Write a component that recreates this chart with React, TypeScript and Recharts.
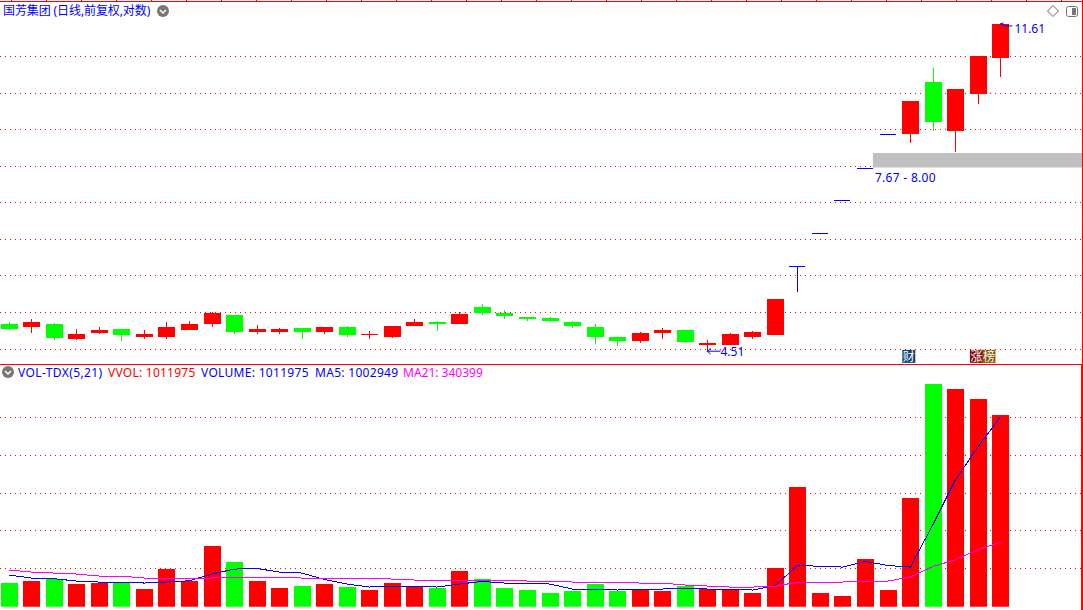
import { Bar, CartesianGrid, ComposedChart, Line, ReferenceArea, ReferenceDot, XAxis, YAxis } from 'recharts'

const FONT = '"Noto Sans", "Noto Sans CJK SC", sans-serif'
const RED = '#ff0000'
const GREEN = '#00ff00'
const BLUE = '#0000ff'
const MAGENTA = '#ff00ff'

const opens = [
  4.886, 4.844, 4.886, 4.68, 4.761, 4.816, 4.707, 4.707, 4.802, 4.886, 5.014, 4.775, 4.775, 4.83, 4.775,
  4.844, 4.734, 4.707, 4.858, 4.914, 4.886, 5.131, 5.043, 4.985, 4.971, 4.914, 4.844, 4.707, 4.653, 4.761,
  4.802, 4.6, 4.6, 4.707, 4.734, 5.776, 6.353, 6.987, 7.67, 8.453, 8.453, 9.821, 8.526, 9.487, 10.526,
]
const closes = [
  4.816, 4.914, 4.693, 4.747, 4.802, 4.734, 4.747, 4.844, 4.886, 5.043, 4.775, 4.816, 4.816, 4.775, 4.844,
  4.734, 4.747, 4.858, 4.914, 4.886, 5.029, 5.043, 5.0, 4.957, 4.928, 4.858, 4.707, 4.653, 4.761, 4.802,
  4.64, 4.626, 4.747, 4.775, 5.251, 5.776, 6.353, 6.987, 7.67, 8.453, 9.297, 8.75, 9.625, 10.586, 11.61,
]
const highs = [
  4.914, 4.957, 4.9, 4.816, 4.844, 4.816, 4.802, 4.914, 4.928, 5.058, 5.014, 4.872, 4.83, 4.83, 4.844,
  4.858, 4.789, 4.858, 4.957, 4.928, 5.058, 5.176, 5.087, 4.985, 4.985, 4.928, 4.886, 4.707, 4.775, 4.83,
  4.802, 4.666, 4.761, 4.789, 5.251, 5.776, 6.353, 6.987, 7.67, 8.453, 9.297, 10.226, 9.625, 10.586, 11.61,
]
const lows = [
  4.802, 4.761, 4.666, 4.666, 4.747, 4.653, 4.68, 4.68, 4.802, 4.844, 4.747, 4.747, 4.747, 4.68, 4.747,
  4.707, 4.68, 4.693, 4.858, 4.789, 4.886, 5.014, 4.957, 4.928, 4.914, 4.83, 4.613, 4.587, 4.626, 4.68,
  4.626, 4.51, 4.6, 4.68, 4.734, 5.358, 6.353, 6.987, 7.67, 8.453, 8.236, 8.526, 8.025, 9.217, 9.964,
]
const volumes = [
  126500, 137000, 147600, 121200, 126500, 126500, 94900, 200300, 137000, 321500, 237200, 137000, 100100, 110700, 121200,
  105400, 89600, 126500, 110700, 100100, 189800, 147600, 100100, 89600, 73800, 84300, 121200, 84300, 89600, 84300,
  110700, 94900, 89600, 73800, 205600, 632500, 73800, 58000, 253000, 89600, 574500, 1175400, 1149100, 1096400, 1011975,
]
const ma5 = [
  167100, 151300, 147600, 135500, 130200, 130200, 124900, 130200, 137000, 172400, 198700, 201900, 182900, 177600, 143900,
  119700, 103800, 109100, 109100, 103800, 119700, 133400, 124900, 124900, 119700, 93300, 93300, 88000, 93300, 93300,
  98600, 93300, 93300, 88000, 110700, 219800, 212400, 209300, 238800, 217700, 209300, 432200, 669400, 843400, 1002949,
]
const ma21 = [
  193400, 182900, 177600, 172400, 161800, 161800, 151300, 151300, 151300, 151300, 156500, 156500, 156500, 151300, 151300,
  151300, 151300, 146000, 140700, 140700, 140700, 140700, 140700, 135500, 135500, 130200, 130200, 130200, 124900, 124900,
  114400, 109100, 103800, 103800, 107000, 130200, 130200, 130200, 135500, 135500, 156500, 212400, 247700, 300400, 340399,
]
const priceGrid = [10.571, 9.5, 8.565, 7.697, 6.937, 6.235, 5.62, 5.051, 4.54]
const volumeGrid = [200000, 400000, 600000, 800000, 1000000]

const priceRows = opens.map((open, i) => ({
  i,
  open,
  close: closes[i],
  body: [Math.min(open, closes[i]), Math.max(open, closes[i])],
  wick: [lows[i], highs[i]],
}))
const volumeRows = volumes.map((volume, i) => ({
  i,
  volume,
  ma5: ma5[i],
  ma21: ma21[i],
  up: closes[i] >= opens[i],
}))

const X_DOMAIN: [number, number] = [-0.4, 47.62]

function candleColor(open: number, close: number) {
  if (open === close) return BLUE
  return close > open ? RED : GREEN
}

function Wick(props: any) {
  const { x, y, width, height, payload } = props
  if (height < 1) return null
  return (
    <rect
      x={Math.floor(x + width / 2)}
      y={Math.round(y)}
      width={1}
      height={Math.round(height)}
      fill={candleColor(payload.open, payload.close)}
      shapeRendering="crispEdges"
    />
  )
}

function Body(props: any) {
  const { x, y, width, height, payload } = props
  const flat = payload.open === payload.close
  return (
    <rect
      x={Math.round(x)}
      y={Math.round(y)}
      width={flat ? width - 1 : width}
      height={Math.max(Math.round(height), 1)}
      fill={candleColor(payload.open, payload.close)}
      shapeRendering="crispEdges"
    />
  )
}

function VolumeBar(props: any) {
  const { x, y, width, height, payload } = props
  const top = Math.round(y)
  return (
    <rect
      x={Math.round(x)}
      y={top}
      width={width}
      height={Math.ceil(y + height) - top}
      fill={payload.up ? RED : GREEN}
      shapeRendering="crispEdges"
    />
  )
}

function HighMark({ cx, cy }: any) {
  return (
    <g>
      <path d={`M${cx + 4} ${cy + 1}l-4 -1l3 -1M${cx} ${cy}l5 2h7`} fill="none" stroke={BLUE} />
      <text x={cx + 14} y={cy + 9} fontSize={12} fontFamily={FONT} fill={BLUE}>
        11.61
      </text>
    </g>
  )
}

function LowMark({ cx, cy }: any) {
  return (
    <g>
      <path d={`M${cx + 13} ${cy - 0.5}h-13M${cx + 3} ${cy - 3.5}l-3 3l3 3`} fill="none" stroke={BLUE} />
      <text x={cx + 13} y={cy + 4} fontSize={12} fontFamily={FONT} fill={BLUE}>
        4.51
      </text>
    </g>
  )
}

function BandLabel({ cx, cy }: any) {
  return (
    <text x={cx + 2} y={cy + 14} fontSize={12} fontFamily={FONT} fill={BLUE} letterSpacing={0.3}>
      7.67 - 8.00
    </text>
  )
}

function Badge({ cx, cy, items }: any) {
  return (
    <g>
      {items.map((item: any, k: number) => (
        <g key={item.text}>
          <rect x={cx - 8 + k * 12.5} y={cy - 7} width={13} height={13} fill={item.fill} />
          <text x={cx - 7.5 + k * 12.5} y={cy + 4} fontSize={12} fontFamily={FONT} fill="#fff">
            {item.text}
          </text>
        </g>
      ))}
    </g>
  )
}

function Chevron({ x, y }: { x: number; y: number }) {
  return (
    <svg style={{ position: 'absolute', left: x - 7, top: y - 7 }} width={14} height={14}>
      <circle cx={7} cy={7} r={6} fill="#777" />
      <path d="M4 6l3 3l3 -3" fill="none" stroke="#fff" strokeWidth={1.5} />
    </svg>
  )
}

function Label({ x, y, color, spacing = 0, children }: any) {
  return (
    <div
      style={{
        position: 'absolute',
        left: x,
        top: y,
        fontFamily: FONT,
        fontSize: 12,
        lineHeight: '16px',
        letterSpacing: spacing,
        color,
        whiteSpace: 'nowrap',
      }}
    >
      {children}
    </div>
  )
}

const frameTicks = [11, 46, 81, 116, 151, 186, 221, 256, 291, 326, 361, 396, 431, 466, 501, 536, 571, 606, 641, 676, 711, 746, 781, 816, 851, 886, 921, 956, 991, 1026, 1061]

export default function App() {
  return (
    <div style={{ position: 'absolute', left: 0, top: 0, width: 1083, height: 610, background: '#fff', overflow: 'hidden' }}>
      <div style={{ position: 'absolute', left: 0, top: 0 }}>
        <ComposedChart width={1082} height={365} data={priceRows} margin={{ top: 0, right: 0, bottom: 0, left: 0 }}>
          <XAxis xAxisId="wick" dataKey="i" type="number" domain={X_DOMAIN} allowDataOverflow hide />
          <XAxis xAxisId="body" dataKey="i" type="number" domain={X_DOMAIN} allowDataOverflow hide />
          <YAxis scale="log" domain={[4.34, 12.44]} allowDataOverflow hide ticks={priceGrid} />
          <CartesianGrid vertical={false} horizontalValues={priceGrid} stroke={RED} strokeDasharray="1 4" shapeRendering="crispEdges" xAxisId="body" />
          <ReferenceArea xAxisId="body" x1={38.34} x2={47.62} y1={7.67} y2={8.0} fill="#c0c0c0" fillOpacity={1} stroke="none" ifOverflow="hidden" />
          <Bar xAxisId="wick" dataKey="wick" barSize={1} shape={Wick} isAnimationActive={false} />
          <Bar xAxisId="body" dataKey="body" barSize={17} shape={Body} isAnimationActive={false} />
          <ReferenceDot xAxisId="body" x={44} y={11.61} shape={HighMark} />
          <ReferenceDot xAxisId="body" x={31} y={4.51} shape={LowMark} />
          <ReferenceDot xAxisId="body" x={38.34} y={7.67} shape={BandLabel} />
          <ReferenceDot xAxisId="body" x={40} y={4.443} shape={(p: any) => <Badge {...p} items={[{ text: '财', fill: '#0f4474' }]} />} />
          <ReferenceDot
            xAxisId="body"
            x={43}
            y={4.443}
            shape={(p: any) => (
              <Badge
                {...p}
                items={[
                  { text: '涨', fill: '#8b0a0a' },
                  { text: '榜', fill: '#8f4f0a' },
                ]}
              />
            )}
          />
        </ComposedChart>
      </div>

      <div style={{ position: 'absolute', left: 0, top: 365 }}>
        <ComposedChart width={1082} height={245} data={volumeRows} margin={{ top: 0, right: 0, bottom: 3.3, left: 0 }}>
          <XAxis dataKey="i" type="number" domain={X_DOMAIN} allowDataOverflow hide />
          <YAxis domain={[0, 1276176]} allowDataOverflow hide ticks={volumeGrid} />
          <CartesianGrid vertical={false} horizontalValues={volumeGrid} stroke={RED} strokeDasharray="1 4" shapeRendering="crispEdges" />
          <Bar dataKey="volume" barSize={17} shape={VolumeBar} isAnimationActive={false} />
          <Line dataKey="ma5" stroke={BLUE} strokeWidth={1} dot={false} activeDot={false} shapeRendering="crispEdges" isAnimationActive={false} />
          <Line dataKey="ma21" stroke={MAGENTA} strokeWidth={1} dot={false} activeDot={false} shapeRendering="crispEdges" isAnimationActive={false} />
        </ComposedChart>
      </div>

      {/* frame lines round the two panes */}
      <div style={{ position: 'absolute', left: 0, top: 1, width: 1083, height: 1, background: RED }} />
      <div style={{ position: 'absolute', left: 0, top: 364, width: 1083, height: 1, background: RED }} />
      <div style={{ position: 'absolute', left: 1082, top: 0, width: 1, height: 364, background: RED }} />
      <div style={{ position: 'absolute', left: 1081, top: 364, width: 2, height: 246, background: RED }} />
      {frameTicks.map((x) => (
        <div key={x} style={{ position: 'absolute', left: x, top: 0, width: 1, height: 1, background: RED }} />
      ))}

      <Label x={3} y={3} color={BLUE} spacing={-0.1}>
        国芳集团 (日线,前复权,对数)
      </Label>
      <Chevron x={163} y={11} />
      <Chevron x={8} y={372} />
      <Label x={18} y={365} color={BLUE} spacing={0.4}>VOL-TDX(5,21)</Label>
      <Label x={108} y={365} color={RED} spacing={0.25}>VVOL: 1011975</Label>
      <Label x={201} y={365} color={BLUE} spacing={0.3}>VOLUME: 1011975</Label>
      <Label x={315} y={365} color={BLUE} spacing={0.3}>MA5: 1002949</Label>
      <Label x={403} y={365} color={MAGENTA}>MA21: 340399</Label>

      <svg style={{ position: 'absolute', left: 1045, top: 3 }} width={36} height={16}>
        <path d="M8 2.5l5.5 5.5l-5.5 5.5l-5.5 -5.5z" fill="#fff" stroke="#666" />
        <rect x={21.5} y={3.5} width={11} height={10} rx={2} fill="#fff" stroke="#777" strokeWidth={1} />
        <rect x={27} y={5} width={4} height={7} fill="#777" />
      </svg>
    </div>
  )
}
